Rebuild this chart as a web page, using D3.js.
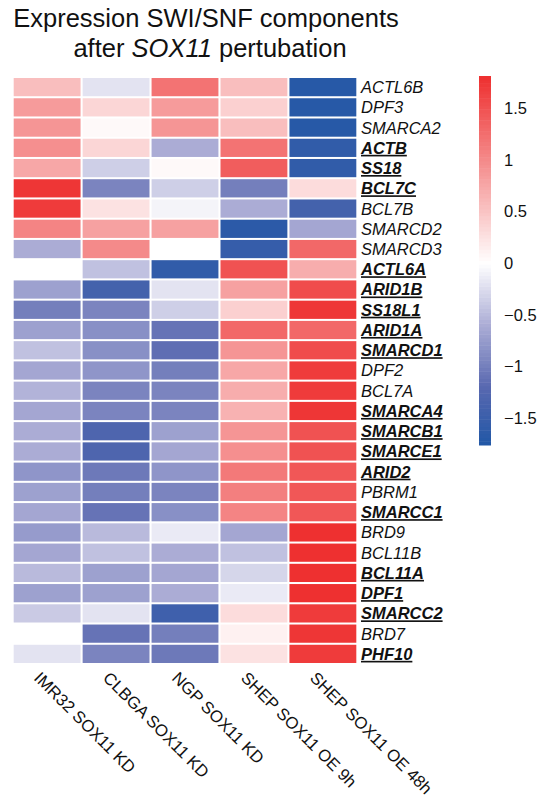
<!DOCTYPE html>
<html>
<head>
<meta charset="utf-8">
<script src="https://cdn.jsdelivr.net/npm/d3@7"></script>
<style>
  html, body { margin: 0; padding: 0; background: #fff; }
  svg { display: block; }
  text { font-family: "Liberation Sans", Arial, Helvetica, sans-serif; fill: #111; }
</style>
</head>
<body>
<svg id="chart" width="553" height="802"></svg>
<script>
// ---------- DATA ----------
const samples = ["IMR32 SOX11 KD", "CLBGA SOX11 KD", "NGP SOX11 KD", "SHEP SOX11 OE 9h", "SHEP SOX11 OE 48h"];
const genes = ["ACTL6B","DPF3","SMARCA2","ACTB","SS18","BCL7C","BCL7B","SMARCD2","SMARCD3","ACTL6A",
  "ARID1B","SS18L1","ARID1A","SMARCD1","DPF2","BCL7A","SMARCA4","SMARCB1","SMARCE1","ARID2",
  "PBRM1","SMARCC1","BRD9","BCL11B","BCL11A","DPF1","SMARCC2","BRD7","PHF10"];
const boldGenes = ["ACTB","SS18","BCL7C","ACTL6A","ARID1B","SS18L1","ARID1A","SMARCD1","SMARCA4",
  "SMARCB1","SMARCE1","ARID2","SMARCC1","BCL11A","DPF1","SMARCC2","PHF10"];
// z-scores per gene, columns in order of `samples`
const imr32 = [0.55,0.85,0.9,0.95,0.75,1.75,1.7,1.05,-0.6,0,-0.7,-1.0,-0.7,-0.45,-0.65,-0.55,-0.65,-0.6,-0.6,-0.8,-0.7,-0.65,-0.75,-0.65,-0.5,-0.7,-0.38,0,-0.2];
const clbga = [-0.2,0.35,0.05,0.35,-0.35,-0.95,0.25,0.8,1.0,-0.45,-1.4,-0.95,-0.85,-0.85,-0.8,-0.95,-0.95,-1.3,-1.3,-1.05,-1.0,-1.1,-0.5,-0.45,-0.7,-0.7,-0.2,-1.1,-0.95];
const ngp   = [1.2,0.85,0.9,-0.6,0.05,-0.35,-0.08,0.8,0,-1.6,-0.2,-0.35,-1.1,-1.15,-1.0,-0.95,-0.95,-0.7,-0.65,-0.8,-0.95,-0.85,-0.15,-0.6,-0.65,-0.6,-1.45,-1.0,-1.05];
const shep9 = [0.55,0.4,0.55,1.2,1.4,-1.0,-0.6,-1.65,-1.55,1.5,0.8,0.4,1.3,0.9,0.75,0.7,0.65,0.9,0.95,1.15,1.1,1.05,-0.65,-0.45,-0.3,-0.15,0.3,0.12,0.25];
const shep48= [-1.7,-1.7,-1.7,-1.6,-1.6,0.3,-1.4,-0.65,1.3,0.7,1.55,1.75,1.3,1.55,1.7,1.7,1.75,1.5,1.5,1.45,1.45,1.45,1.8,1.8,1.8,1.8,1.7,1.75,1.7];
const legendTicks = [1.5, 1, 0.5, 0, -0.5, -1, -1.5];
const legendRange = [-1.76, 1.81];

// ---------- BUILD ----------
const columns = [imr32, clbga, ngp, shep9, shep48];
const cells = [];
genes.forEach((g, i) => samples.forEach((s, j) => cells.push({gene: g, sample: s, value: columns[j][i]})));

const svg = d3.select("#chart");

const color = d3.scaleLinear()
  .domain([-1.76, -1.2, -0.6, 0, 0.9, 1.81])
  .range(["#2157A6", "#5868B0", "#ABACD5", "#FFFFFF", "#F59595", "#EE2F2F"])
  .interpolate(d3.interpolateRgb)
  .clamp(true);

const x = d3.scaleBand().domain(samples).range([13, 357]).paddingInner(0.03).paddingOuter(0.01);
const y = d3.scaleBand().domain(genes).range([77, 664]).paddingInner(0.1).paddingOuter(0.05);

// Title
const title = svg.append("text").attr("text-anchor", "middle").attr("font-size", 25.5);
title.append("tspan").attr("x", 206).attr("y", 27).text("Expression SWI/SNF components");
const t2 = title.append("tspan").attr("x", 210).attr("y", 57);
t2.append("tspan").text("after ");
t2.append("tspan").attr("font-style", "italic").text("SOX11");
t2.append("tspan").text(" pertubation");

// Cells
svg.append("g").selectAll("rect").data(cells).join("rect")
  .attr("x", d => x(d.sample))
  .attr("y", d => y(d.gene))
  .attr("width", x.bandwidth())
  .attr("height", y.bandwidth())
  .attr("fill", d => color(d.value));

// Row labels
svg.append("g").selectAll("text").data(genes).join("text")
  .attr("x", 361)
  .attr("y", d => y(d) + y.bandwidth() / 2)
  .attr("dy", "0.36em")
  .attr("font-size", 16.5)
  .attr("font-style", "italic")
  .attr("font-weight", d => boldGenes.includes(d) ? "bold" : "normal")
  .attr("text-decoration", d => boldGenes.includes(d) ? "underline" : "none")
  .attr("fill", d => boldGenes.includes(d) ? "#000" : "#333")
  .text(d => d);

// Column labels
svg.append("g").selectAll("text").data(samples).join("text")
  .attr("transform", d => `translate(${x(d) + x.bandwidth() / 2 - 14},${679}) rotate(45)`)
  .attr("font-size", 16.8)
  .text(d => d);

// Color legend
const ly = d3.scaleLinear().domain(legendRange).range([445, 76]);
const nb = 100;
const steps = d3.range(nb).map(i => legendRange[0] + (legendRange[1] - legendRange[0]) * i / nb);
const stepH = (legendRange[1] - legendRange[0]) / nb;
svg.append("g").selectAll("rect").data(steps).join("rect")
  .attr("x", 479)
  .attr("width", 12)
  .attr("y", d => ly(d + stepH))
  .attr("height", d => ly(d) - ly(d + stepH) + 0.5)
  .attr("fill", d => color(d + stepH / 2));

svg.append("g").selectAll("text").data(legendTicks).join("text")
  .attr("x", 504)
  .attr("y", d => ly(d))
  .attr("dy", "0.36em")
  .attr("font-size", 16.5)
  .text(d => d3.format("")(d).replace("-", "\u2212"));
</script>
</body>
</html>
